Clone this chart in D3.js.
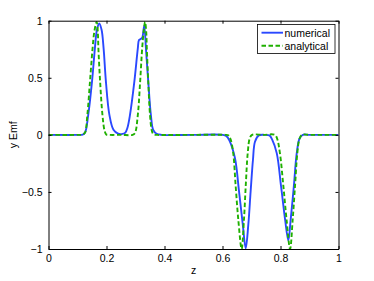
<!DOCTYPE html>
<html><head><meta charset="utf-8">
<script src="https://cdn.jsdelivr.net/npm/d3@7"></script>
<style>body{margin:0;background:#fff;}svg{display:block;font-family:"Liberation Sans",Arial,sans-serif;}</style>
</head><body>
<svg id="c" width="374" height="281"></svg>
<script>
const xTicks = [0, 0.2, 0.4, 0.6, 0.8, 1];
const xTickLabels = ["0", "0.2", "0.4", "0.6", "0.8", "1"];
const yTicks = [-1, -0.5, 0, 0.5, 1];
const yTickLabels = ["\u22121", "\u22120.5", "0", "0.5", "1"];
const seriesNames = ["numerical", "analytical"];

const numZ = [0, 0.10, 0.118, 0.126, 0.137, 0.150, 0.160, 0.167, 0.175, 0.183, 0.190, 0.198, 0.210, 0.224, 0.240, 0.255, 0.265, 0.272, 0.281, 0.296, 0.308, 0.312, 0.318, 0.323, 0.330, 0.336, 0.344, 0.353, 0.361, 0.373, 0.39, 0.50, 0.60, 0.613, 0.624, 0.643, 0.657, 0.670, 0.680, 0.689, 0.697, 0.705, 0.712, 0.725, 0.745, 0.762, 0.771, 0.787, 0.802, 0.816, 0.827, 0.835, 0.846, 0.856, 0.866, 0.877, 0.90, 1];
const numY = [0, 0, 0.003, 0.02, 0.175, 0.466, 0.758, 0.92, 0.975, 0.92, 0.758, 0.466, 0.175, 0.044, 0.01, 0.008, 0.02, 0.06, 0.175, 0.466, 0.758, 0.83, 0.84, 0.85, 0.955, 0.758, 0.466, 0.175, 0.044, 0.01, 0, 0, 0, -0.01, -0.05, -0.204, -0.496, -0.787, -0.995, -0.787, -0.496, -0.22, -0.06, -0.005, 0, -0.005, -0.04, -0.16, -0.452, -0.744, -0.925, -0.744, -0.452, -0.16, -0.03, 0, 0, 0];

const anaZ = [0, 0.10, 0.118, 0.126, 0.134, 0.143, 0.152, 0.158, 0.166, 0.170, 0.172, 0.178, 0.186, 0.193, 0.199, 0.21, 0.25, 0.29, 0.298, 0.308, 0.316, 0.323, 0.328, 0.333, 0.337, 0.339, 0.344, 0.350, 0.356, 0.362, 0.375, 0.50, 0.61, 0.620, 0.628, 0.637, 0.6455, 0.6545, 0.666, 0.674, 0.680, 0.687, 0.694, 0.702, 0.74, 0.780, 0.788, 0.798, 0.810, 0.821, 0.833, 0.842, 0.850, 0.858, 0.865, 0.874, 0.90, 1];
const anaY = [0, 0, 0.003, 0.02, 0.175, 0.466, 0.758, 0.904, 0.99, 0.904, 0.758, 0.466, 0.175, 0.04, 0.004, 0, 0, 0, 0.015, 0.175, 0.466, 0.758, 0.9, 0.99, 0.9, 0.758, 0.466, 0.175, 0.04, 0.004, 0, 0, 0, -0.004, -0.04, -0.16, -0.452, -0.744, -1.0, -0.744, -0.452, -0.16, -0.03, 0, 0, 0, -0.03, -0.16, -0.452, -0.744, -1.0, -0.744, -0.452, -0.16, -0.04, 0, 0, 0];

const svg = d3.select("#c");
const L = 48.5, R = 338.5, T = 20.7, B = 249;
const x = d3.scaleLinear().domain([0, 1]).range([L, R]);
const y = d3.scaleLinear().domain([-1, 1]).range([B, T]);

const defs = svg.append("defs");
defs.append("clipPath").attr("id", "clip").append("rect")
  .attr("x", L).attr("y", T - 1).attr("width", R - L).attr("height", B - T + 1);

const fs = 10.5;
const line = d3.line().x(d => x(d[0])).y(d => y(d[1])).curve(d3.curveCatmullRom.alpha(0.5));

const numData = numZ.map((z, i) => [z, numY[i]]);
const anaData = anaZ.map((z, i) => [z, anaY[i]]);

const g = svg.append("g").attr("clip-path", "url(#clip)");
g.append("path").datum(numData).attr("d", line)
  .attr("fill", "none").attr("stroke", "#2a48ff").attr("stroke-width", 1.9);
g.append("path").datum(anaData).attr("d", line)
  .attr("fill", "none").attr("stroke", "#1fb000").attr("stroke-width", 1.9)
  .attr("stroke-dasharray", "4.5,2.5");

// axes (inward ticks)
const tl = 3;
const axB = d3.axisBottom(x).tickValues(xTicks).tickFormat((d, i) => xTickLabels[i]).tickSizeInner(-tl).tickSizeOuter(0).tickPadding(6);
const axT = d3.axisTop(x).tickValues(xTicks).tickFormat("").tickSizeInner(-tl).tickSizeOuter(0);
const axL = d3.axisLeft(y).tickValues(yTicks).tickFormat((d, i) => yTickLabels[i]).tickSizeInner(-tl).tickSizeOuter(0).tickPadding(6);
const axR = d3.axisRight(y).tickValues(yTicks).tickFormat("").tickSizeInner(-tl).tickSizeOuter(0);

function style(sel) {
  sel.selectAll("path").attr("stroke", "#000").attr("stroke-width", 1);
  sel.selectAll("line").attr("stroke", "#000").attr("stroke-width", 1);
  sel.selectAll("text").attr("font-size", fs).attr("fill", "#000").attr("font-family", "Liberation Sans, Arial, sans-serif");
}
style(svg.append("g").attr("transform", `translate(0,${B})`).call(axB));
style(svg.append("g").attr("transform", `translate(0,${T})`).call(axT));
style(svg.append("g").attr("transform", `translate(${L},0)`).call(axL));
style(svg.append("g").attr("transform", `translate(${R},0)`).call(axR));

svg.append("text").attr("x", (L + R) / 2).attr("y", 274).attr("text-anchor", "middle")
  .attr("font-size", fs).text("z");
svg.append("text").attr("transform", `translate(17,${(T + B) / 2}) rotate(-90)`)
  .attr("text-anchor", "middle").attr("font-size", fs).text("y Emf");

// legend
const lg = svg.append("g");
lg.append("rect").attr("x", 257.5).attr("y", 24.5).attr("width", 77.5).attr("height", 29)
  .attr("fill", "#fff").attr("stroke", "#000").attr("stroke-width", 0.8);
const colors = ["#2a48ff", "#1fb000"];
const dashes = [null, "4.5,2.5"];
seriesNames.forEach((n, i) => {
  const yy = 32.7 + i * 13;
  lg.append("line").attr("x1", 261.5).attr("x2", 283).attr("y1", yy).attr("y2", yy)
    .attr("stroke", colors[i]).attr("stroke-width", 1.9).attr("stroke-dasharray", dashes[i]);
  lg.append("text").attr("x", 284.5).attr("y", yy + 3.8).attr("font-size", fs).text(n);
});
</script>
</body></html>
